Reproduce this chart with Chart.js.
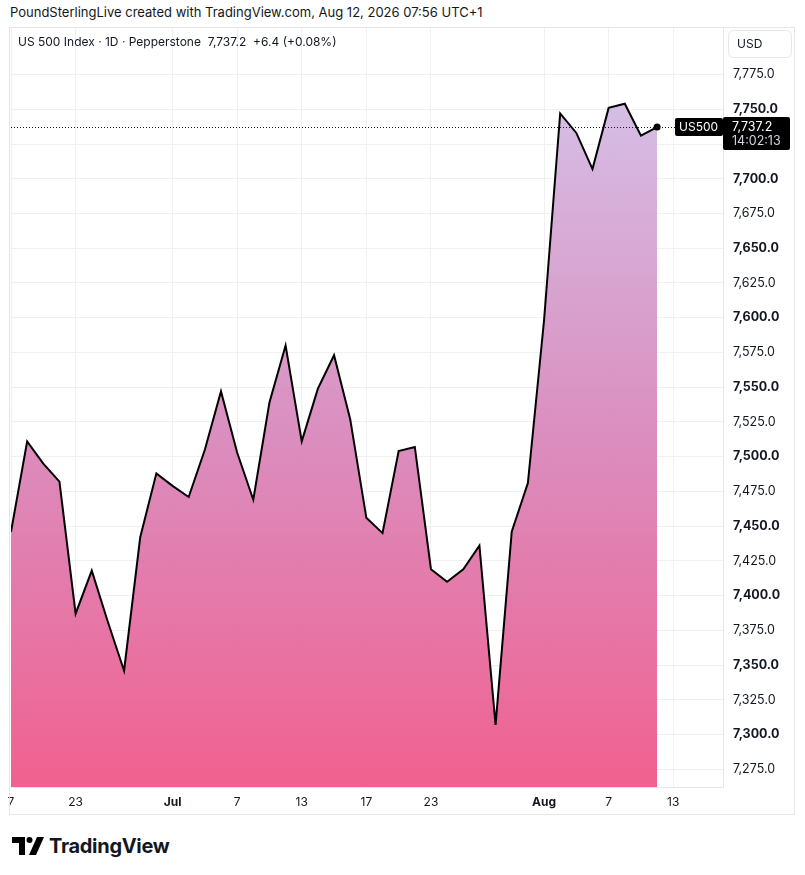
<!DOCTYPE html>
<html>
<head>
<meta charset="utf-8">
<script src="https://cdn.jsdelivr.net/npm/chart.js@4/dist/chart.umd.min.js"></script>
<style>
  body { margin: 0; background: #fff; width: 805px; height: 875px; overflow: hidden; font-family: Inter, "Noto Sans", sans-serif; color: #131722; }
  #head { position: absolute; left: 10px; top: 4px; font-size: 13px; }
  #pane { position: absolute; left: 7px; top: 24px; width: 788px; height: 791px; }
  #frame { position: absolute; left: 9px; top: 27px; width: 786px; height: 788px; border: 1px solid #e6e6e6; box-sizing: border-box; pointer-events: none; }
  #legend { position: absolute; left: 18px; top: 34px; font-size: 12px; }
  #foot { position: absolute; left: 12px; top: 834px; font-size: 20px; font-weight: 700; letter-spacing: -0.3px; display: flex; align-items: center; }
</style>
</head>
<body>
<div id="head">PoundSterlingLive created with TradingView.com, Aug 12, 2026 07:56 UTC+1</div>
<div id="pane"><canvas id="c"></canvas></div>
<div id="frame"></div>
<div id="legend">US 500 Index · 1D · Pepperstone&nbsp; 7,737.2&nbsp; +6.4 (+0.08%)</div>
<div id="foot">
  <svg width="33" height="20" viewBox="0 0 33 20" style="margin-right:4px">
    <path d="M0 1h13v18h-6v-12h-7z" fill="#000"/>
    <circle cx="17.5" cy="4" r="3" fill="#000"/>
    <path d="M25 1h7l-8 18h-7z" fill="#000"/>
  </svg>
  <span>TradingView</span>
</div>
<script>
// daily closes, US500 (Pepperstone)
var dates = ['Jun 17','Jun 18','Jun 19','Jun 22','Jun 23','Jun 24','Jun 25','Jun 26','Jun 29','Jun 30',
  'Jul 1','Jul 2','Jul 3','Jul 6','Jul 7','Jul 8','Jul 9','Jul 10','Jul 13','Jul 14','Jul 15','Jul 16','Jul 17',
  'Jul 20','Jul 21','Jul 22','Jul 23','Jul 24','Jul 27','Jul 28','Jul 29','Jul 30','Jul 31',
  'Aug 3','Aug 4','Aug 5','Aug 6','Aug 7','Aug 10','Aug 11','Aug 12'];
var futureDates = ['Aug 13','Aug 14','Aug 17','Aug 18'];
var closes = [7446,7511,7495,7482,7387,7418,7381,7346,7442,7488,
  7479,7471,7505,7547,7503,7469,7539,7580,7511,7549,7573,7527,7456,
  7445,7504,7507,7419,7410,7419,7436,7307,7446,7481,
  7598,7747,7733,7707,7751,7754,7731,7737.2];
var tickDates = ['Jun 17','Jun 23','Jul 1','Jul 7','Jul 13','Jul 17','Jul 23','Aug 3','Aug 7','Aug 13'];
var tickText = ['7','23','Jul','7','13','17','23','Aug','7','13'];
var priceTicks = [7275,7300,7325,7350,7375,7400,7425,7450,7475,7500,7525,7550,7575,7600,7625,7650,7675,7700,7725,7750,7775];
var symbol = 'US500';
var countdown = '14:02:13';

var allDates = dates.concat(futureDates);
var points = closes.map(function (v, i) { return { x: i, y: v }; });
var tickPos = tickDates.map(function (d) { return allDates.indexOf(d); });
var last = closes[closes.length - 1];

function fmt(v) {
  return v.toLocaleString('en-US', { minimumFractionDigits: 1, maximumFractionDigits: 1 });
}

var priceTag = {
  id: 'priceTag',
  afterDatasetsDraw: function (chart) {
    var ctx = chart.ctx, a = chart.chartArea;
    var y = chart.scales.y.getPixelForValue(last);
    ctx.save();
    ctx.strokeStyle = '#131722';
    ctx.lineWidth = 1;
    ctx.setLineDash([1, 2]);
    ctx.beginPath();
    ctx.moveTo(a.left, Math.round(y) + 0.5);
    ctx.lineTo(a.right - 48, Math.round(y) + 0.5);
    ctx.stroke();
    ctx.setLineDash([]);
    // symbol tag
    ctx.fillStyle = '#000';
    ctx.beginPath();
    ctx.roundRect(a.right - 48, y - 9, 48, 18, 2);
    ctx.fill();
    ctx.fillStyle = '#fff';
    ctx.font = '12px Inter, sans-serif';
    ctx.textBaseline = 'middle';
    ctx.textAlign = 'left';
    ctx.fillText(symbol, a.right - 44, y);
    ctx.restore();
  },
  afterDraw: function (chart) {
    var ctx = chart.ctx, a = chart.chartArea;
    var y = chart.scales.y.getPixelForValue(last);
    ctx.save();
    ctx.fillStyle = '#000';
    ctx.beginPath();
    ctx.roundRect(a.right, y - 10, 67, 33, 2);
    ctx.fill();
    ctx.fillStyle = '#fff';
    ctx.font = '12.5px Inter, sans-serif';
    ctx.textBaseline = 'middle';
    ctx.fillText(fmt(last), a.right + 9, y);
    ctx.fillStyle = '#d1d4dc';
    ctx.fillText(countdown, a.right + 9, y + 14);
    // currency box
    ctx.strokeStyle = '#e6e6e6';
    ctx.fillStyle = '#fff';
    ctx.beginPath();
    ctx.roundRect(a.right + 5.5, a.top + 2.5, 63, 27, 5);
    ctx.fill();
    ctx.stroke();
    ctx.fillStyle = '#131722';
    ctx.font = '12px Inter, sans-serif';
    ctx.fillText('USD', a.right + 14, a.top + 16);
    ctx.restore();
  }
};

var chart = new Chart(document.getElementById('c'), {
  type: 'line',
  data: {
    datasets: [{
      data: points,
      borderColor: '#000',
      borderWidth: 2,
      tension: 0,
      fill: 'start',
      backgroundColor: function (c) {
        var a = c.chart.chartArea;
        if (!a) return 'rgba(220,140,190,0.9)';
        var top = c.chart.scales.y.getPixelForValue(Math.max.apply(null, closes));
        var g = c.chart.ctx.createLinearGradient(0, top, 0, a.bottom);
        g.addColorStop(0, 'rgba(211,186,227,0.95)');
        g.addColorStop(0.5, 'rgba(217,136,187,0.96)');
        g.addColorStop(1, 'rgba(240,92,140,0.97)');
        return g;
      },
      pointRadius: function (c) { return c.dataIndex === closes.length - 1 ? 3.5 : 0; },
      pointBackgroundColor: '#000',
      pointBorderWidth: 0
    }]
  },
  options: {
    responsive: true,
    maintainAspectRatio: false,
    animation: false,
    layout: { padding: 0 },
    plugins: { legend: { display: false }, tooltip: { enabled: false } },
    scales: {
      x: {
        type: 'linear',
        min: 0,
        max: 44.08,
        afterBuildTicks: function (s) { s.ticks = tickPos.map(function (v) { return { value: v }; }); },
        afterFit: function (s) { s.height = 28; s.paddingLeft = 0; s.paddingRight = 0; },
        ticks: {
          autoSkip: false,
          maxRotation: 0,
          padding: 8,
          color: '#131722',
          font: function (c) {
            var t = c.tick ? tickText[tickPos.indexOf(c.tick.value)] : '';
            return { family: 'Inter, sans-serif', size: 12, weight: (t === 'Jul' || t === 'Aug') ? '700' : '400' };
          },
          callback: function (v) { return tickText[tickPos.indexOf(v)]; }
        },
        grid: { color: '#f0f0f0', drawTicks: false },
        border: { color: '#e6e6e6' }
      },
      y: {
        position: 'right',
        min: 7262.3,
        max: 7808.5,
        afterBuildTicks: function (s) { s.ticks = priceTicks.map(function (v) { return { value: v }; }); },
        afterFit: function (s) { s.width = 72; s.paddingTop = 0; s.paddingBottom = 0; },
        ticks: {
          padding: 10,
          color: '#131722',
          font: function (c) {
            var bold = c.tick && c.tick.value % 50 === 0;
            return { family: 'Inter, sans-serif', size: 12.5, weight: bold ? '700' : '400' };
          },
          callback: function (v) { return fmt(v); }
        },
        grid: { color: '#f0f0f0', drawTicks: false },
        border: { color: '#e6e6e6' }
      }
    }
  },
  plugins: [priceTag]
});
</script>
</body>
</html>
